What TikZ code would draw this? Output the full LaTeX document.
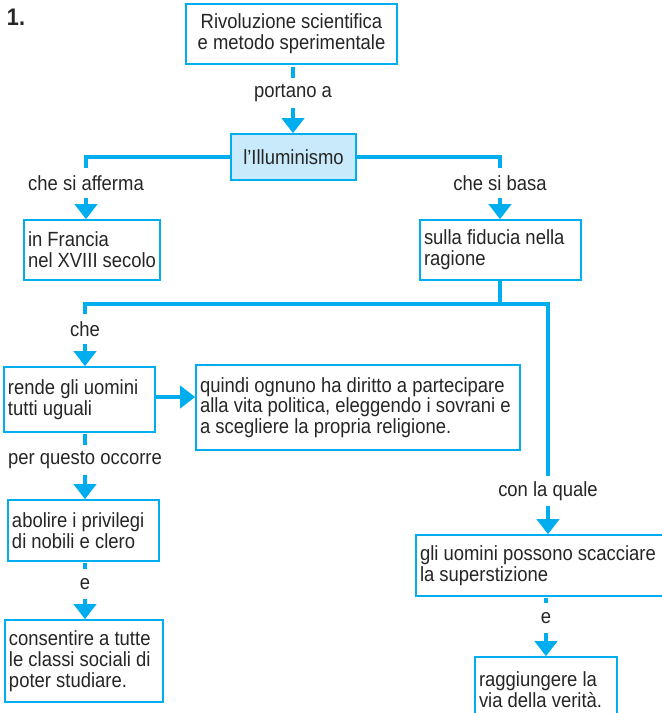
\documentclass[tikz,border=0pt]{standalone}
\usepackage{fontspec}
\setmainfont{Liberation Sans}[FakeStretch=0.9]
\usetikzlibrary{arrows.meta,positioning}
\definecolor{azzurro}{RGB}{0,174,239}
\definecolor{celeste}{RGB}{200,234,250}

\begin{document}
\begin{tikzpicture}[x=1pt,y=-1pt,
  font=\fontsize{20.5}{20.8}\selectfont, text=black!85,
  box/.style={draw=azzurro,line width=1.6pt,fill=white,inner xsep=4pt,inner ysep=0pt,align=flush left},
  lab/.style={inner sep=0pt,minimum height=30pt},
  link/.style={draw=azzurro,line width=4pt},
  freccia/.style={link,-{Triangle[width=22pt,length=15pt]}}]

  \useasboundingbox (0,0) rectangle (662,713);
  \clip (0,0) rectangle (662,713);

  \node[font=\fontsize{24}{24}\selectfont\bfseries] (num) at (16,17) {1.};

  % boxes
  \node[box,align=flush center,text width=203pt,minimum height=60pt] (rivol) at (291.5,34)
    {Rivoluzione scientifica\\e metodo sperimentale};
  \node[box,fill=celeste,align=center,minimum width=125pt,minimum height=46pt] (illum) at (293.5,157)
    {l'Illuminismo};
  \node[box,text width=128pt,minimum height=60pt] (francia) at (92,250)
    {in Francia\\nel XVIII secolo};
  \node[box,text width=153pt,minimum height=60pt] (fiducia) at (500.5,250)
    {sulla fiducia nella\\ragione};
  \node[box,text width=143pt,minimum height=65pt] (uguali) at (79.5,399.5)
    {rende gli uomini\\tutti uguali};
  \node[box,text width=316pt,minimum height=85pt] (quindi) at (358,407.5)
    {quindi ognuno ha diritto a partecipare\\alla vita politica, eleggendo i sovrani e\\a scegliere la propria religione.};
  \node[box,text width=143pt,minimum height=61pt] (abolire) at (83.5,530.5)
    {abolire i privilegi\\di nobili e clero};
  \node[box,text width=150pt,minimum height=82pt] (consentire) at (84,661)
    {consentire a tutte\\le classi sociali di\\poter studiare.};
  \node[box,text width=242pt,minimum height=61pt] (scacciare) at (541,565.5)
    {gli uomini possono scacciare\\la superstizione};
  \node[box,text width=134pt,minimum height=66pt] (verita) at (546,690)
    {raggiungere la\\via della verità.};

  % labels
  \node[lab] (portano) at (293,93) {portano a};
  \node[lab] (afferma) at (86,183) {che si afferma};
  \node[lab] (basa) at (500,183) {che si basa};
  \node[lab] (che) at (85,329) {che};
  \node[lab] (occorre) at (85,460) {per questo occorre};
  \node[lab] (e1) at (85,584) {e};
  \node[lab] (quale) at (548,491) {con la quale};
  \node[lab] (e2) at (546,618) {e};

  % connectors
  \draw[link,shorten <=2pt] (rivol.south -| portano) -- (portano);
  \draw[freccia] (portano) -- (portano |- illum.north);
  \draw[link] (illum.west) -| (afferma.north);
  \draw[link] (illum.east) -| (basa.north);
  \draw[freccia] (afferma) -- (afferma |- francia.north);
  \draw[freccia] (basa) -- (basa |- fiducia.north);

  \draw[link] (fiducia.south -| basa) -- ++(0,23) coordinate (ramo);
  \draw[link] (ramo) -| (che.north);
  \draw[link] (ramo) -| (quale.north);
  \draw[freccia] (che) -- (che |- uguali.north);
  \draw[freccia] (uguali.east |- 0,397) -- (quindi.west |- 0,397);

  \draw[link,shorten <=1pt] (uguali.south -| occorre) -- (occorre);
  \draw[freccia] (occorre) -- (occorre |- abolire.north);
  \draw[link,shorten <=1pt] (abolire.south -| e1) -- (e1);
  \draw[freccia] (e1) -- (e1 |- consentire.north);

  \draw[freccia] (quale) -- (quale |- scacciare.north);
  \draw[link,shorten <=1pt] (scacciare.south -| e2) -- (e2);
  \draw[freccia] (e2) -- (e2 |- verita.north);
\end{tikzpicture}
\end{document}
